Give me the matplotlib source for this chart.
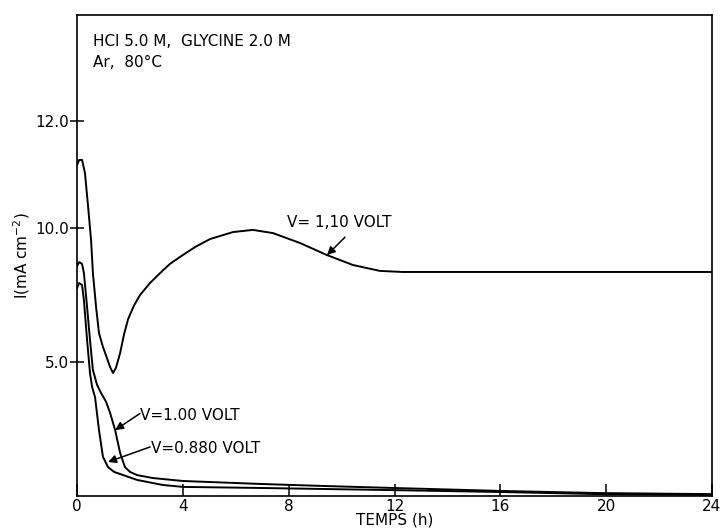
import matplotlib
matplotlib.use("Agg")
import matplotlib.pyplot as plt

# Current density I (mA cm^-2) versus time (h) at three applied potentials
t_110 = [0, 0.08, 0.19, 0.30, 0.42, 0.53, 0.60, 0.72, 0.83, 0.98, 1.13, 1.25, 1.36,
         1.47, 1.63, 1.78, 1.93, 2.15, 2.38, 2.76, 3.14, 3.51, 3.89, 4.46, 5.03,
         5.90, 6.65, 7.41, 8.43, 9.45, 10.43, 11.45, 12.30, 16.0, 20.0, 24.0]
i_110 = [12.35, 12.54, 12.54, 12.05, 10.78, 9.55, 8.32, 7.05, 6.08, 5.56, 5.15, 4.81, 4.59,
         4.78, 5.34, 6.05, 6.60, 7.10, 7.50, 7.95, 8.32, 8.66, 8.92, 9.29, 9.59,
         9.85, 9.93, 9.81, 9.44, 8.99, 8.62, 8.40, 8.36, 8.36, 8.36, 8.36]

t_100 = [0, 0.08, 0.19, 0.26, 0.38, 0.49, 0.60, 0.76, 0.91, 1.10, 1.25, 1.44, 1.63,
         1.81, 2.00, 2.27, 2.87, 4.01, 6.92, 9.45, 11.94, 15.99, 19.76, 24.0]
i_100 = [8.58, 8.73, 8.66, 8.32, 7.05, 5.82, 4.70, 4.14, 3.84, 3.51, 3.10, 2.46, 1.60,
         1.08, 0.90, 0.78, 0.67, 0.56, 0.45, 0.37, 0.30, 0.19, 0.11, 0.07]

t_088 = [0, 0.08, 0.19, 0.26, 0.38, 0.49, 0.57, 0.68, 0.83, 0.98, 1.17, 1.40, 1.63,
         2.27, 3.25, 4.01, 6.92, 11.94, 15.99, 19.76, 24.0]
i_088 = [7.76, 7.95, 7.87, 7.31, 5.82, 4.59, 4.07, 3.69, 2.46, 1.46, 1.08, 0.90, 0.82,
         0.60, 0.41, 0.34, 0.30, 0.22, 0.15, 0.07, 0.04]

x_ticks = [0, 4, 8, 12, 16, 20, 24]
x_ticklabels = ["0", "4", "8", "12", "16", "20", "24"]
y_ticks = [5.0, 10.0, 14.0]
y_ticklabels = ["5.0", "10.0", "12.0"]

FS = 11

fig = plt.figure(figsize=(7.24, 5.31), dpi=100)
ax = fig.add_axes([0.1064, 0.0659, 0.8770, 0.9059])

for t, i in ((t_110, i_110), (t_100, i_100), (t_088, i_088)):
    ax.plot(t, i, color="black", lw=1.4, solid_joinstyle="round")

ax.set_xlim(0, 24)
ax.set_ylim(0, 17.95)
ax.set_xticks(x_ticks)
ax.set_xticklabels(x_ticklabels, fontsize=FS)
ax.set_yticks(y_ticks)
ax.set_yticklabels(y_ticklabels, fontsize=FS)
ax.tick_params(axis="x", direction="in", length=9, width=1.1, pad=2)
ax.tick_params(axis="y", direction="inout", length=10, width=1.1, pad=1)
for sp in ax.spines.values():
    sp.set_linewidth(1.2)

ax.set_xlabel("TEMPS (h)", fontsize=FS, labelpad=-1)
ax.set_ylabel("I(mA cm$^{-2}$)", fontsize=FS, labelpad=2)

ax.text(0.6, 16.95, "HCl 5.0 M,  GLYCINE 2.0 M", fontsize=FS, va="center", ha="left")
ax.text(0.6, 16.17, "Ar,  80°C", fontsize=FS, va="center", ha="left")

arrow = dict(arrowstyle="-|>", color="black", lw=1.1, mutation_scale=12,
             shrinkA=0, shrinkB=0)

ax.annotate("", xy=(9.45, 8.99), xytext=(10.13, 9.66), arrowprops=arrow)
ax.text(7.94, 10.19, "V= 1,10 VOLT", fontsize=FS, va="center", ha="left")

ax.annotate("", xy=(1.44, 2.46), xytext=(2.38, 3.08), arrowprops=arrow)
ax.text(2.38, 3.02, "V=1.00 VOLT", fontsize=FS, va="center", ha="left")

ax.annotate("", xy=(1.17, 1.27), xytext=(2.76, 1.83), arrowprops=arrow)
ax.text(2.78, 1.79, "V=0.880 VOLT", fontsize=FS, va="center", ha="left")

fig.savefig("out.png", dpi=100)
